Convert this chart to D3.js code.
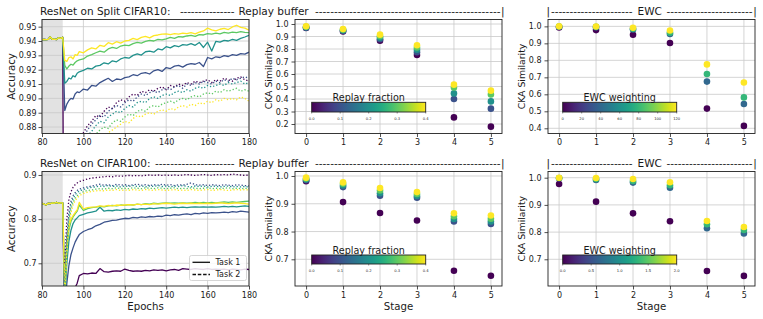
<!DOCTYPE html>
<html><head><meta charset="utf-8">
<script src="https://cdn.jsdelivr.net/npm/d3@7"></script>
<style>
body{margin:0;background:#fff}
svg{display:block}
text{font-family:"DejaVu Sans",sans-serif;fill:#1a1a1a}
</style>
</head><body>
<svg id="c" width="763" height="319"></svg>
<script>
// ---------------- DATA ----------------
const epochTicks = [80,100,120,140,160,180];
const stages = [0,1,2,3,4,5];
const replayFractions = [0.0,0.1,0.2,0.3,0.4];
const ewcWeightsC10 = [0,40,80,120];
const ewcWeightsC100 = [0,0.67,1.33,2.0];
const replayCbTicks = [0,0.1,0.2,0.3,0.4];
const ewcC10CbTicks = [0,20,40,60,80,100,120];
const ewcC100CbTicks = [0,0.5,1.0,1.5,2.0];
const c10AccTicks = [0.88,0.89,0.90,0.91,0.92,0.93,0.94,0.95];
const c100AccTicks = [0.7,0.8,0.9];
const c10ReplayTicks = [0.2,0.3,0.4,0.5,0.6,0.7,0.8,0.9,1.0];
const c10EwcTicks = [0.4,0.5,0.6,0.7,0.8,0.9,1.0];
const c100CkaTicks = [0.7,0.8,0.9,1.0];

const preEpochs = [80,81,82,83,84,85,86,87,88,89,90];
const c10PreAcc = [0.9410,0.9411,0.9409,0.9412,0.9428,0.9412,0.9414,0.9410,0.9422,0.9418,0.9426];
const c100PreAcc = [0.836,0.834,0.832,0.836,0.835,0.837,0.836,0.838,0.836,0.837,0.837];

const postEpochs = [91,92,93,94,95,96,97,98,100,102,
  104,106,108,110,112,114,116,118,120,122,
  124,126,128,130,132,134,136,138,140,142,
  144,146,148,150,152,154,156,158,160,162,
  164,166,168,170,172,174,176,178,180];

// Split CIFAR10, Task 1 (solid)
const c10T1R0 = [0.620,0.660,0.700,0.720,0.740,0.750,0.760,0.770,0.780,0.790,
 0.790,0.800,0.800,0.810,0.810,0.800,0.810,0.820,0.810,0.820,
 0.820,0.830,0.820,0.830,0.830,0.820,0.830,0.840,0.830,0.840,
 0.830,0.840,0.840,0.830,0.840,0.850,0.840,0.840,0.850,0.840,
 0.850,0.840,0.850,0.850,0.840,0.850,0.860,0.850,0.850];
const c10T1R1 = [0.8915,0.8960,0.8985,0.9000,0.8995,0.9030,0.9045,0.9040,0.9065,0.9058,
 0.9090,0.9085,0.9110,0.9125,0.9140,0.9118,0.9135,0.9130,0.9145,0.9150,
 0.9165,0.9158,0.9175,0.9180,0.9170,0.9192,0.9200,0.9188,0.9215,0.9208,
 0.9225,0.9230,0.9218,0.9235,0.9242,0.9238,0.9250,0.9222,0.9285,0.9275,
 0.9290,0.9285,0.9298,0.9292,0.9305,0.9300,0.9312,0.9308,0.9322];
const c10T1R2 = [0.9105,0.9118,0.9142,0.9135,0.9158,0.9150,0.9175,0.9185,0.9195,0.9210,
 0.9205,0.9225,0.9230,0.9248,0.9240,0.9262,0.9255,0.9275,0.9285,0.9280,
 0.9300,0.9310,0.9302,0.9325,0.9330,0.9322,0.9345,0.9338,0.9360,0.9352,
 0.9368,0.9360,0.9375,0.9372,0.9382,0.9370,0.9390,0.9355,0.9392,0.9330,
 0.9398,0.9392,0.9405,0.9400,0.9412,0.9405,0.9418,0.9428,0.9440];
const c10T1R3 = [0.9230,0.9205,0.9225,0.9238,0.9232,0.9250,0.9262,0.9268,0.9275,0.9295,
 0.9305,0.9318,0.9330,0.9322,0.9345,0.9355,0.9348,0.9365,0.9372,0.9368,
 0.9382,0.9390,0.9385,0.9398,0.9405,0.9400,0.9412,0.9408,0.9415,0.9425,
 0.9418,0.9430,0.9428,0.9435,0.9440,0.9432,0.9445,0.9442,0.9452,0.9448,
 0.9455,0.9450,0.9460,0.9455,0.9462,0.9458,0.9465,0.9460,0.9458];
const c10T1R4 = [0.9265,0.9258,0.9285,0.9290,0.9275,0.9305,0.9300,0.9326,0.9318,0.9338,
 0.9352,0.9345,0.9370,0.9362,0.9388,0.9378,0.9395,0.9385,0.9400,0.9405,
 0.9418,0.9410,0.9425,0.9432,0.9422,0.9438,0.9442,0.9448,0.9450,0.9445,
 0.9452,0.9448,0.9455,0.9452,0.9458,0.9450,0.9462,0.9470,0.9490,0.9478,
 0.9470,0.9482,0.9488,0.9480,0.9498,0.9510,0.9495,0.9490,0.9475];
// Split CIFAR10, Task 2 (dotted)
const c10T2R0 = [0.820,0.835,0.845,0.852,0.858,0.862,0.866,0.870,0.876,0.881,
 0.884,0.888,0.887,0.891,0.894,0.893,0.897,0.899,0.898,0.901,
 0.903,0.902,0.905,0.904,0.906,0.905,0.907,0.908,0.906,0.909,
 0.908,0.910,0.909,0.911,0.910,0.912,0.911,0.912,0.913,0.911,
 0.913,0.912,0.914,0.913,0.912,0.914,0.915,0.913,0.912];
const c10T2R1 = [0.810,0.825,0.838,0.846,0.852,0.857,0.862,0.866,0.873,0.878,
 0.882,0.885,0.888,0.887,0.891,0.893,0.895,0.894,0.897,0.899,
 0.898,0.901,0.903,0.902,0.904,0.905,0.904,0.906,0.907,0.906,
 0.908,0.909,0.907,0.910,0.909,0.911,0.910,0.912,0.911,0.910,
 0.912,0.911,0.913,0.912,0.914,0.913,0.914,0.915,0.914];
const c10T2R2 = [0.800,0.815,0.828,0.838,0.845,0.851,0.856,0.861,0.868,0.874,
 0.877,0.881,0.884,0.883,0.887,0.889,0.891,0.890,0.893,0.895,
 0.894,0.897,0.898,0.897,0.900,0.901,0.900,0.902,0.903,0.902,
 0.904,0.905,0.904,0.906,0.905,0.907,0.908,0.907,0.909,0.908,
 0.909,0.910,0.909,0.911,0.910,0.911,0.912,0.910,0.911];
const c10T2R3 = [0.790,0.805,0.818,0.828,0.836,0.842,0.848,0.853,0.860,0.866,
 0.871,0.875,0.878,0.880,0.879,0.883,0.885,0.884,0.887,0.889,
 0.888,0.891,0.892,0.891,0.894,0.895,0.894,0.896,0.897,0.898,
 0.897,0.899,0.900,0.899,0.901,0.902,0.901,0.903,0.904,0.903,
 0.905,0.904,0.906,0.905,0.906,0.907,0.905,0.906,0.905];
const c10T2R4 = [0.780,0.795,0.807,0.817,0.825,0.832,0.838,0.843,0.850,0.856,
 0.861,0.865,0.869,0.873,0.876,0.878,0.880,0.882,0.884,0.883,
 0.886,0.888,0.887,0.889,0.890,0.889,0.891,0.892,0.891,0.893,
 0.892,0.894,0.895,0.894,0.896,0.895,0.897,0.896,0.898,0.897,
 0.899,0.898,0.900,0.899,0.900,0.899,0.901,0.900,0.898];

// CIFAR100, Task 1 (solid)
const c100T1R0 = [0.550,0.580,0.600,0.620,0.635,0.645,0.655,0.672,0.677,0.676,
 0.678,0.677,0.688,0.681,0.680,0.682,0.683,0.682,0.687,0.684,
 0.682,0.683,0.682,0.684,0.683,0.685,0.684,0.685,0.683,0.685,
 0.686,0.684,0.688,0.687,0.686,0.688,0.687,0.686,0.688,0.686,
 0.687,0.686,0.687,0.685,0.687,0.686,0.685,0.687,0.686];
const c100T1R1 = [0.600,0.655,0.695,0.720,0.735,0.748,0.757,0.765,0.772,0.776,
 0.779,0.785,0.788,0.793,0.795,0.797,0.798,0.800,0.802,0.801,
 0.804,0.803,0.805,0.804,0.806,0.805,0.807,0.806,0.809,0.808,
 0.810,0.809,0.811,0.812,0.810,0.813,0.812,0.814,0.813,0.815,
 0.814,0.815,0.816,0.815,0.817,0.816,0.818,0.817,0.816];
const c100T1R2 = [0.620,0.700,0.750,0.775,0.790,0.798,0.803,0.808,0.811,0.814,
 0.816,0.818,0.827,0.818,0.820,0.819,0.821,0.820,0.822,0.821,
 0.823,0.822,0.824,0.823,0.825,0.824,0.825,0.826,0.825,0.826,
 0.827,0.826,0.827,0.826,0.827,0.828,0.827,0.828,0.827,0.828,
 0.827,0.828,0.829,0.828,0.829,0.828,0.829,0.830,0.829];
const c100T1R3 = [0.630,0.730,0.775,0.795,0.805,0.812,0.818,0.832,0.820,0.824,
 0.826,0.827,0.829,0.828,0.830,0.831,0.830,0.832,0.831,0.833,
 0.832,0.834,0.833,0.835,0.834,0.836,0.835,0.836,0.837,0.836,
 0.837,0.836,0.837,0.836,0.837,0.838,0.837,0.838,0.837,0.838,
 0.837,0.838,0.839,0.838,0.839,0.838,0.839,0.840,0.841];
const c100T1R4 = [0.640,0.745,0.785,0.800,0.808,0.815,0.821,0.838,0.823,0.826,
 0.827,0.828,0.830,0.829,0.831,0.830,0.832,0.831,0.832,0.833,
 0.832,0.834,0.833,0.834,0.833,0.835,0.834,0.835,0.836,0.835,
 0.834,0.835,0.836,0.835,0.836,0.835,0.836,0.835,0.836,0.835,
 0.836,0.837,0.836,0.835,0.836,0.837,0.836,0.835,0.834];
// CIFAR100, Task 2 (dotted)
const c100T2R0 = [0.700,0.800,0.845,0.862,0.872,0.878,0.882,0.885,0.888,0.891,
 0.893,0.894,0.895,0.896,0.897,0.896,0.898,0.897,0.898,0.899,
 0.898,0.899,0.898,0.899,0.900,0.899,0.900,0.899,0.900,0.899,
 0.900,0.899,0.900,0.901,0.900,0.899,0.900,0.901,0.900,0.899,
 0.901,0.900,0.901,0.900,0.902,0.901,0.900,0.899,0.900];
const c100T2R1 = [0.660,0.760,0.815,0.840,0.853,0.860,0.865,0.868,0.871,0.873,
 0.875,0.877,0.879,0.877,0.878,0.876,0.879,0.877,0.878,0.876,
 0.878,0.879,0.877,0.878,0.876,0.878,0.877,0.879,0.877,0.878,
 0.876,0.878,0.877,0.879,0.882,0.878,0.877,0.878,0.876,0.878,
 0.877,0.876,0.878,0.877,0.876,0.878,0.877,0.876,0.875];
const c100T2R2 = [0.650,0.750,0.805,0.832,0.846,0.855,0.860,0.864,0.867,0.870,
 0.872,0.873,0.875,0.874,0.876,0.874,0.875,0.873,0.875,0.874,
 0.876,0.874,0.875,0.873,0.875,0.874,0.876,0.874,0.875,0.873,
 0.875,0.874,0.876,0.874,0.873,0.875,0.874,0.875,0.873,0.874,
 0.875,0.873,0.874,0.875,0.873,0.874,0.873,0.874,0.873];
const c100T2R3 = [0.640,0.740,0.795,0.822,0.838,0.847,0.853,0.858,0.862,0.865,
 0.866,0.868,0.869,0.868,0.870,0.869,0.871,0.869,0.870,0.869,
 0.871,0.870,0.869,0.871,0.870,0.869,0.871,0.870,0.869,0.870,
 0.871,0.869,0.870,0.869,0.871,0.870,0.869,0.870,0.871,0.869,
 0.870,0.869,0.870,0.871,0.869,0.870,0.869,0.870,0.869];
const c100T2R4 = [0.630,0.730,0.785,0.815,0.832,0.842,0.848,0.853,0.858,0.861,
 0.863,0.864,0.865,0.864,0.866,0.865,0.867,0.865,0.866,0.865,
 0.867,0.866,0.865,0.867,0.866,0.865,0.867,0.866,0.865,0.866,
 0.867,0.865,0.866,0.865,0.867,0.866,0.865,0.866,0.867,0.865,
 0.866,0.867,0.866,0.865,0.866,0.867,0.866,0.867,0.866];

// CKA similarity, replay buffer
const c10ReplayR0 = [0.968,0.940,0.867,0.752,0.253,0.179];
const c10ReplayR1 = [0.971,0.945,0.878,0.775,0.400,0.323];
const c10ReplayR2 = [0.974,0.950,0.890,0.795,0.445,0.381];
const c10ReplayR3 = [0.978,0.955,0.902,0.812,0.493,0.437];
const c10ReplayR4 = [0.982,0.960,0.915,0.830,0.515,0.467];
const c100ReplayR0 = [0.981,0.906,0.867,0.840,0.659,0.641];
const c100ReplayR1 = [0.985,0.960,0.929,0.922,0.836,0.827];
const c100ReplayR2 = [0.988,0.966,0.938,0.928,0.845,0.836];
const c100ReplayR3 = [0.991,0.972,0.948,0.935,0.855,0.846];
const c100ReplayR4 = [0.994,0.977,0.957,0.942,0.866,0.858];
// CKA similarity, EWC
const c10EwcW0 = [0.994,0.978,0.951,0.902,0.516,0.414];
const c10EwcW1 = [0.998,0.995,0.982,0.955,0.675,0.543];
const c10EwcW2 = [0.999,0.997,0.986,0.962,0.720,0.582];
const c10EwcW3 = [1.000,0.999,0.992,0.976,0.776,0.670];
const c100EwcW0 = [0.977,0.912,0.869,0.840,0.657,0.639];
const c100EwcW1 = [0.998,0.992,0.982,0.963,0.814,0.795];
const c100EwcW2 = [0.999,0.995,0.988,0.972,0.829,0.808];
const c100EwcW3 = [1.000,0.999,0.995,0.983,0.841,0.819];

// ---------------- DRAWING ----------------
const svg = d3.select('#c');
const defs = svg.append('defs');
const FONT = '"DejaVu Sans", sans-serif';
const GRID = '#c9c9c9';

const replayColors = replayFractions.map(v => d3.interpolateViridis(v / 0.4));
const ewc10Colors = ewcWeightsC10.map(v => d3.interpolateViridis(v / 120));
const ewc100Colors = ewcWeightsC100.map(v => d3.interpolateViridis(v / 2));

function styleAxis(g, fs) {
  g.attr('font-family', FONT).attr('font-size', fs);
  g.select('.domain').remove();
  g.selectAll('.tick line').attr('stroke', '#222').attr('stroke-width', 0.8);
  g.selectAll('.tick text').attr('fill', '#1a1a1a');
}

function frame(b) {
  svg.append('rect').attr('x', b.x0).attr('y', b.y0)
    .attr('width', b.x1 - b.x0).attr('height', b.y1 - b.y0)
    .attr('fill', 'none').attr('stroke', '#222').attr('stroke-width', 0.9);
}

function grid(g, b, x, y, xt, yt) {
  g.selectAll(null).data(xt).join('line')
    .attr('x1', d => x(d)).attr('x2', d => x(d)).attr('y1', b.y0).attr('y2', b.y1)
    .attr('stroke', GRID).attr('stroke-width', 0.8);
  g.selectAll(null).data(yt).join('line')
    .attr('y1', d => y(d)).attr('y2', d => y(d)).attr('x1', b.x0).attr('x2', b.x1)
    .attr('stroke', GRID).attr('stroke-width', 0.8);
}

function linePanel(id, b, yDom, yTicks, yFmt, pre, solids, dots, colors) {
  const x = d3.scaleLinear().domain([80, 180]).range([b.x0, b.x1]);
  const y = d3.scaleLinear().domain(yDom).range([b.y1, b.y0]);
  defs.append('clipPath').attr('id', id).append('rect')
    .attr('x', b.x0).attr('y', b.y0).attr('width', b.x1 - b.x0).attr('height', b.y1 - b.y0);
  const g = svg.append('g');
  g.append('rect').attr('x', x(80)).attr('y', b.y0).attr('width', x(90) - x(80))
    .attr('height', b.y1 - b.y0).attr('fill', '#e2e2e2');
  grid(g, b, x, y, epochTicks, yTicks);
  const lg = g.append('g').attr('clip-path', `url(#${id})`);
  const line = d3.line().x(d => x(d[0])).y(d => y(d[1]));
  solids.forEach((s, i) => {
    const pts = preEpochs.map((e, j) => [e, pre[j]]).concat(postEpochs.map((e, j) => [e, s[j]]));
    lg.append('path').attr('d', line(pts)).attr('fill', 'none')
      .attr('stroke', colors[i]).attr('stroke-width', 1.3).attr('stroke-linejoin', 'round');
  });
  dots.forEach((s, i) => {
    const pts = postEpochs.map((e, j) => [e, s[j]]);
    lg.append('path').attr('d', line(pts)).attr('fill', 'none')
      .attr('stroke', colors[i]).attr('stroke-width', 1.3).attr('stroke-dasharray', '1.3,2');
  });
  frame(b);
  styleAxis(svg.append('g').attr('transform', `translate(0,${b.y1})`)
    .call(d3.axisBottom(x).tickValues(epochTicks).tickFormat(d3.format('d')).tickSize(3.5).tickPadding(2.5)), 8);
  styleAxis(svg.append('g').attr('transform', `translate(${b.x0},0)`)
    .call(d3.axisLeft(y).tickValues(yTicks).tickFormat(d3.format(yFmt)).tickSize(3.5).tickPadding(2)), 8);
  return {x, y};
}

function colorbar(id, bx, dom, ticks, fmt, title) {
  const grad = defs.append('linearGradient').attr('id', id);
  for (let k = 0; k <= 20; k++) {
    grad.append('stop').attr('offset', (k * 5) + '%').attr('stop-color', d3.interpolateViridis(k / 20));
  }
  const s = d3.scaleLinear().domain(dom).range([bx.x0, bx.x1]);
  svg.append('rect').attr('x', bx.x0).attr('y', bx.y0).attr('width', bx.x1 - bx.x0)
    .attr('height', bx.y1 - bx.y0).attr('fill', `url(#${id})`).attr('stroke', '#222').attr('stroke-width', 0.9);
  svg.selectAll(null).data(ticks).join('line')
    .attr('x1', d => s(d)).attr('x2', d => s(d)).attr('y1', bx.y1).attr('y2', bx.y1 + 1.5)
    .attr('stroke', '#222').attr('stroke-width', 0.5);
  svg.selectAll(null).data(ticks).join('text')
    .attr('x', d => s(d)).attr('y', bx.y1 + 7.6).attr('text-anchor', 'middle')
    .attr('font-size', 3.7).text(d => d3.format(fmt)(d));
  svg.append('text').attr('x', (bx.x0 + bx.x1) / 2).attr('y', bx.y0 - 1)
    .attr('text-anchor', 'middle').attr('font-size', 9.6).text(title);
}

function scatterPanel(b, yDom, yTicks, series, colors) {
  const x = d3.scaleLinear().domain([-0.3, 5.3]).range([b.x0, b.x1]);
  const y = d3.scaleLinear().domain(yDom).range([b.y1, b.y0]);
  const g = svg.append('g');
  grid(g, b, x, y, stages, yTicks);
  series.forEach((s, i) => {
    g.selectAll(null).data(s.map((v, j) => [stages[j], v])).join('circle')
      .attr('cx', d => x(d[0])).attr('cy', d => y(d[1])).attr('r', 3.3).attr('fill', colors[i]);
  });
  frame(b);
  styleAxis(svg.append('g').attr('transform', `translate(0,${b.y1})`)
    .call(d3.axisBottom(x).tickValues(stages).tickFormat(d3.format('d')).tickSize(3.5).tickPadding(2.5)), 8);
  styleAxis(svg.append('g').attr('transform', `translate(${b.x0},0)`)
    .call(d3.axisLeft(y).tickValues(yTicks).tickFormat(d3.format('.1f')).tickSize(3.5).tickPadding(3)), 8);
}

const TL = {x0: 42, x1: 249, y0: 19.5, y1: 133.5};
const TM = {x0: 295, x1: 502, y0: 19.5, y1: 133.5};
const TR = {x0: 548, x1: 755, y0: 19.5, y1: 133.5};
const BL = {x0: 42, x1: 249, y0: 171.5, y1: 286};
const BM = {x0: 295, x1: 502, y0: 171.5, y1: 286};
const BR = {x0: 548, x1: 755, y0: 171.5, y1: 286};

linePanel('clipTL', TL, [0.8755, 0.955], c10AccTicks, '.2f', c10PreAcc,
  [c10T1R0, c10T1R1, c10T1R2, c10T1R3, c10T1R4],
  [c10T2R0, c10T2R1, c10T2R2, c10T2R3, c10T2R4], replayColors);
linePanel('clipBL', BL, [0.6486, 0.9079], c100AccTicks, '.1f', c100PreAcc,
  [c100T1R0, c100T1R1, c100T1R2, c100T1R3, c100T1R4],
  [c100T2R0, c100T2R1, c100T2R2, c100T2R3, c100T2R4], replayColors);

scatterPanel(TM, [0.124, 1.036], c10ReplayTicks,
  [c10ReplayR0, c10ReplayR1, c10ReplayR2, c10ReplayR3, c10ReplayR4], replayColors);
scatterPanel(BM, [0.6039, 1.0162], c100CkaTicks,
  [c100ReplayR0, c100ReplayR1, c100ReplayR2, c100ReplayR3, c100ReplayR4], replayColors);
scatterPanel(TR, [0.3694, 1.0404], c10EwcTicks,
  [c10EwcW0, c10EwcW1, c10EwcW2, c10EwcW3], ewc10Colors);
scatterPanel(BR, [0.6018, 1.0228], c100CkaTicks,
  [c100EwcW0, c100EwcW1, c100EwcW2, c100EwcW3], ewc100Colors);

colorbar('cbTM', {x0: 311.7, x1: 425.7, y0: 102.3, y1: 112}, [0, 0.4], replayCbTicks, '.1f', 'Replay fraction');
colorbar('cbBM', {x0: 311.7, x1: 425.7, y0: 255, y1: 264}, [0, 0.4], replayCbTicks, '.1f', 'Replay fraction');
colorbar('cbTR', {x0: 562.7, x1: 676.7, y0: 102.3, y1: 112}, [0, 120], ewcC10CbTicks, 'd', 'EWC weighting');
colorbar('cbBR', {x0: 562.7, x1: 676.7, y0: 255, y1: 264}, [0, 2], ewcC100CbTicks, '.1f', 'EWC weighting');

// axis labels
function vlabel(x, cy, txt, fs) {
  svg.append('text').attr('transform', `translate(${x},${cy}) rotate(-90)`)
    .attr('text-anchor', 'middle').attr('font-size', fs).text(txt);
}
vlabel(14.5, (TL.y0 + TL.y1) / 2, 'Accuracy', 10.2);
vlabel(14.5, (BL.y0 + BL.y1) / 2, 'Accuracy', 10.2);
vlabel(272, (TM.y0 + TM.y1) / 2, 'CKA Similarity', 9.3);
vlabel(272, (BM.y0 + BM.y1) / 2, 'CKA Similarity', 9.3);
vlabel(524.5, (TR.y0 + TR.y1) / 2, 'CKA Similarity', 9.3);
vlabel(524.5, (BR.y0 + BR.y1) / 2, 'CKA Similarity', 9.3);
svg.append('text').attr('x', (BL.x0 + BL.x1) / 2).attr('y', 310).attr('text-anchor', 'middle').attr('font-size', 10.2).text('Epochs');
svg.append('text').attr('x', (BM.x0 + BM.x1) / 2).attr('y', 310).attr('text-anchor', 'middle').attr('font-size', 10.2).text('Stage');
svg.append('text').attr('x', (BR.x0 + BR.x1) / 2).attr('y', 310).attr('text-anchor', 'middle').attr('font-size', 10.2).text('Stage');

// legend
const lgd = svg.append('g');
lgd.append('rect').attr('x', 189.5).attr('y', 255.5).attr('width', 57).attr('height', 25).attr('rx', 2)
  .attr('fill', '#fff').attr('fill-opacity', 0.85).attr('stroke', '#cccccc').attr('stroke-width', 0.8);
lgd.append('line').attr('x1', 192.5).attr('x2', 210).attr('y1', 262.3).attr('y2', 262.3)
  .attr('stroke', '#111').attr('stroke-width', 1.3);
lgd.append('line').attr('x1', 192.5).attr('x2', 210).attr('y1', 274.5).attr('y2', 274.5)
  .attr('stroke', '#111').attr('stroke-width', 1.3).attr('stroke-dasharray', '3.5,1.8');
lgd.append('text').attr('x', 215.5).attr('y', 265).attr('font-size', 8).text('Task 1');
lgd.append('text').attr('x', 215.5).attr('y', 277.2).attr('font-size', 8).text('Task 2');

// titles
const TFS = 10.5;
function ttext(x, y, txt, anchor) {
  svg.append('text').attr('x', x).attr('y', y).attr('font-size', TFS)
    .attr('text-anchor', anchor || 'start').text(txt);
}
function dashes(x0, x1, y) {
  const n = Math.max(1, Math.round((x1 - x0) / 3.75));
  svg.append('text').attr('x', x0).attr('y', y).attr('font-size', TFS)
    .attr('textLength', x1 - x0).attr('lengthAdjust', 'spacing').text('-'.repeat(n));
}
[[14.5, 'ResNet on Split CIFAR10:', 180], [167.2, 'ResNet on CIFAR100:', 155]].forEach(([yy, t, ds]) => {
  ttext(40, yy, t);
  dashes(ds, 234.5, yy);
  ttext(238.5, yy, 'Replay buffer');
  dashes(315, 500.5, yy);
  ttext(502.7, yy, '|', 'middle');
  ttext(548.3, yy, '|', 'middle');
  dashes(551, 632.5, yy);
  ttext(649.7, yy, 'EWC', 'middle');
  dashes(666.5, 752.5, yy);
  ttext(755, yy, '|', 'middle');
});
</script>
</body></html>
